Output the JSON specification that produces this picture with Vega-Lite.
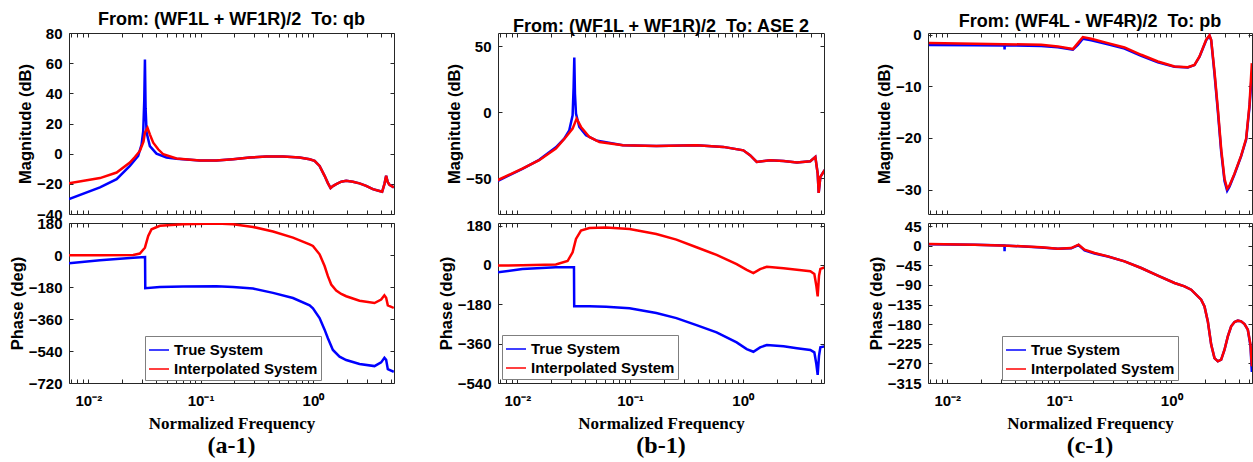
{
"$schema":"https://vega.github.io/schema/vega-lite/v6.json",
"padding":{"left":8,"top":10,"right":0,"bottom":0},
"background":"white",
"datasets":{"d":[
{"p":"a","q":"m","s":"True System","f":0.00673,"v":-30.1},{"p":"a","q":"m","s":"True System","f":0.0127,"v":-22.4},{"p":"a","q":"m","s":"True System","f":0.01787,"v":-16.9},{"p":"a","q":"m","s":"True System","f":0.02344,"v":-8.1},{"p":"a","q":"m","s":"True System","f":0.0278,"v":-1.5},{"p":"a","q":"m","s":"True System","f":0.02979,"v":6},{"p":"a","q":"m","s":"True System","f":0.03083,"v":15},{"p":"a","q":"m","s":"True System","f":0.03148,"v":35},{"p":"a","q":"m","s":"True System","f":0.03192,"v":62.4},{"p":"a","q":"m","s":"True System","f":0.03236,"v":30},{"p":"a","q":"m","s":"True System","f":0.03304,"v":14},{"p":"a","q":"m","s":"True System","f":0.03532,"v":5},{"p":"a","q":"m","s":"True System","f":0.04046,"v":0},{"p":"a","q":"m","s":"True System","f":0.04966,"v":-2.5},{"p":"a","q":"m","s":"True System","f":0.06095,"v":-3.3},{"p":"a","q":"m","s":"True System","f":0.0984,"v":-4.6},{"p":"a","q":"m","s":"True System","f":0.1383,"v":-4.6},{"p":"a","q":"m","s":"True System","f":0.1945,"v":-3.7},{"p":"a","q":"m","s":"True System","f":0.2735,"v":-2.6},{"p":"a","q":"m","s":"True System","f":0.3846,"v":-1.9},{"p":"a","q":"m","s":"True System","f":0.5412,"v":-1.9},{"p":"a","q":"m","s":"True System","f":0.7603,"v":-2.6},{"p":"a","q":"m","s":"True System","f":0.934,"v":-3.7},{"p":"a","q":"m","s":"True System","f":1.035,"v":-4.8},{"p":"a","q":"m","s":"True System","f":1.146,"v":-8.1},{"p":"a","q":"m","s":"True System","f":1.27,"v":-14.7},{"p":"a","q":"m","s":"True System","f":1.359,"v":-19.5},{"p":"a","q":"m","s":"True System","f":1.436,"v":-22.8},{"p":"a","q":"m","s":"True System","f":1.506,"v":-21.5},{"p":"a","q":"m","s":"True System","f":1.612,"v":-20.2},{"p":"a","q":"m","s":"True System","f":1.786,"v":-18.6},{"p":"a","q":"m","s":"True System","f":1.978,"v":-18},{"p":"a","q":"m","s":"True System","f":2.268,"v":-18.6},{"p":"a","q":"m","s":"True System","f":2.599,"v":-19.7},{"p":"a","q":"m","s":"True System","f":2.979,"v":-21.3},{"p":"a","q":"m","s":"True System","f":3.415,"v":-23.5},{"p":"a","q":"m","s":"True System","f":3.914,"v":-24.8},{"p":"a","q":"m","s":"True System","f":4.134,"v":-25.3},{"p":"a","q":"m","s":"True System","f":4.335,"v":-20},{"p":"a","q":"m","s":"True System","f":4.486,"v":-14.7},{"p":"a","q":"m","s":"True System","f":4.642,"v":-19},{"p":"a","q":"m","s":"True System","f":4.804,"v":-20.6},{"p":"a","q":"m","s":"True System","f":5.248,"v":-22.4},
{"p":"a","q":"m","s":"Interpolated System","f":0.00673,"v":-19.7},{"p":"a","q":"m","s":"Interpolated System","f":0.0127,"v":-16.2},{"p":"a","q":"m","s":"Interpolated System","f":0.01787,"v":-12.5},{"p":"a","q":"m","s":"Interpolated System","f":0.02344,"v":-5.9},{"p":"a","q":"m","s":"Interpolated System","f":0.026,"v":-2.2},{"p":"a","q":"m","s":"Interpolated System","f":0.02877,"v":1.8},{"p":"a","q":"m","s":"Interpolated System","f":0.031,"v":8},{"p":"a","q":"m","s":"Interpolated System","f":0.03192,"v":14},{"p":"a","q":"m","s":"Interpolated System","f":0.03365,"v":17.2},{"p":"a","q":"m","s":"Interpolated System","f":0.03532,"v":12.8},{"p":"a","q":"m","s":"Interpolated System","f":0.03784,"v":7.3},{"p":"a","q":"m","s":"Interpolated System","f":0.04188,"v":2.9},{"p":"a","q":"m","s":"Interpolated System","f":0.04645,"v":-0.4},{"p":"a","q":"m","s":"Interpolated System","f":0.06095,"v":-3.2},{"p":"a","q":"m","s":"Interpolated System","f":0.0984,"v":-4.6},{"p":"a","q":"m","s":"Interpolated System","f":0.1383,"v":-4.6},{"p":"a","q":"m","s":"Interpolated System","f":0.1945,"v":-3.7},{"p":"a","q":"m","s":"Interpolated System","f":0.2735,"v":-2.6},{"p":"a","q":"m","s":"Interpolated System","f":0.3846,"v":-1.9},{"p":"a","q":"m","s":"Interpolated System","f":0.5412,"v":-1.9},{"p":"a","q":"m","s":"Interpolated System","f":0.7603,"v":-2.6},{"p":"a","q":"m","s":"Interpolated System","f":0.934,"v":-3.7},{"p":"a","q":"m","s":"Interpolated System","f":1.035,"v":-4.8},{"p":"a","q":"m","s":"Interpolated System","f":1.146,"v":-8.1},{"p":"a","q":"m","s":"Interpolated System","f":1.27,"v":-14.7},{"p":"a","q":"m","s":"Interpolated System","f":1.359,"v":-19.5},{"p":"a","q":"m","s":"Interpolated System","f":1.436,"v":-22.8},{"p":"a","q":"m","s":"Interpolated System","f":1.506,"v":-21.5},{"p":"a","q":"m","s":"Interpolated System","f":1.612,"v":-20.2},{"p":"a","q":"m","s":"Interpolated System","f":1.786,"v":-18.6},{"p":"a","q":"m","s":"Interpolated System","f":1.978,"v":-18},{"p":"a","q":"m","s":"Interpolated System","f":2.268,"v":-18.6},{"p":"a","q":"m","s":"Interpolated System","f":2.599,"v":-19.7},{"p":"a","q":"m","s":"Interpolated System","f":2.979,"v":-21.3},{"p":"a","q":"m","s":"Interpolated System","f":3.415,"v":-23.5},{"p":"a","q":"m","s":"Interpolated System","f":3.914,"v":-24.8},{"p":"a","q":"m","s":"Interpolated System","f":4.134,"v":-25.3},{"p":"a","q":"m","s":"Interpolated System","f":4.335,"v":-20},{"p":"a","q":"m","s":"Interpolated System","f":4.486,"v":-14.7},{"p":"a","q":"m","s":"Interpolated System","f":4.642,"v":-19},{"p":"a","q":"m","s":"Interpolated System","f":4.804,"v":-20.6},{"p":"a","q":"m","s":"Interpolated System","f":5.248,"v":-22.4},
{"p":"a","q":"p","s":"True System","f":0.00673,"v":-47},{"p":"a","q":"p","s":"True System","f":0.0127,"v":-30},{"p":"a","q":"p","s":"True System","f":0.02512,"v":-15},{"p":"a","q":"p","s":"True System","f":0.032,"v":-11},{"p":"a","q":"p","s":"True System","f":0.03215,"v":-187},{"p":"a","q":"p","s":"True System","f":0.04335,"v":-180},{"p":"a","q":"p","s":"True System","f":0.0698,"v":-177},{"p":"a","q":"p","s":"True System","f":0.1383,"v":-176},{"p":"a","q":"p","s":"True System","f":0.1945,"v":-180},{"p":"a","q":"p","s":"True System","f":0.2929,"v":-189},{"p":"a","q":"p","s":"True System","f":0.4411,"v":-213},{"p":"a","q":"p","s":"True System","f":0.664,"v":-242},{"p":"a","q":"p","s":"True System","f":0.934,"v":-283},{"p":"a","q":"p","s":"True System","f":1.0,"v":-300},{"p":"a","q":"p","s":"True System","f":1.146,"v":-355},{"p":"a","q":"p","s":"True System","f":1.27,"v":-420},{"p":"a","q":"p","s":"True System","f":1.359,"v":-468},{"p":"a","q":"p","s":"True System","f":1.506,"v":-534},{"p":"a","q":"p","s":"True System","f":1.726,"v":-572},{"p":"a","q":"p","s":"True System","f":1.978,"v":-591},{"p":"a","q":"p","s":"True System","f":2.599,"v":-613},{"p":"a","q":"p","s":"True System","f":3.533,"v":-625},{"p":"a","q":"p","s":"True System","f":4.05,"v":-604},{"p":"a","q":"p","s":"True System","f":4.33,"v":-578},{"p":"a","q":"p","s":"True System","f":4.486,"v":-590},{"p":"a","q":"p","s":"True System","f":4.642,"v":-642},{"p":"a","q":"p","s":"True System","f":5.248,"v":-657},
{"p":"a","q":"p","s":"Interpolated System","f":0.00673,"v":-2},{"p":"a","q":"p","s":"Interpolated System","f":0.0127,"v":-2},{"p":"a","q":"p","s":"Interpolated System","f":0.02512,"v":0},{"p":"a","q":"p","s":"Interpolated System","f":0.02877,"v":8},{"p":"a","q":"p","s":"Interpolated System","f":0.03192,"v":41},{"p":"a","q":"p","s":"Interpolated System","f":0.03415,"v":107},{"p":"a","q":"p","s":"Interpolated System","f":0.03656,"v":145},{"p":"a","q":"p","s":"Interpolated System","f":0.04335,"v":164},{"p":"a","q":"p","s":"Interpolated System","f":0.0698,"v":173},{"p":"a","q":"p","s":"Interpolated System","f":0.1383,"v":177},{"p":"a","q":"p","s":"Interpolated System","f":0.1945,"v":173},{"p":"a","q":"p","s":"Interpolated System","f":0.2929,"v":158},{"p":"a","q":"p","s":"Interpolated System","f":0.4411,"v":132},{"p":"a","q":"p","s":"Interpolated System","f":0.664,"v":98},{"p":"a","q":"p","s":"Interpolated System","f":0.934,"v":60},{"p":"a","q":"p","s":"Interpolated System","f":1.0,"v":51},{"p":"a","q":"p","s":"Interpolated System","f":1.146,"v":4},{"p":"a","q":"p","s":"Interpolated System","f":1.27,"v":-62},{"p":"a","q":"p","s":"Interpolated System","f":1.359,"v":-119},{"p":"a","q":"p","s":"Interpolated System","f":1.455,"v":-166},{"p":"a","q":"p","s":"Interpolated System","f":1.612,"v":-200},{"p":"a","q":"p","s":"Interpolated System","f":1.787,"v":-219},{"p":"a","q":"p","s":"Interpolated System","f":1.978,"v":-232},{"p":"a","q":"p","s":"Interpolated System","f":2.599,"v":-257},{"p":"a","q":"p","s":"Interpolated System","f":3.533,"v":-270},{"p":"a","q":"p","s":"Interpolated System","f":4.05,"v":-251},{"p":"a","q":"p","s":"Interpolated System","f":4.33,"v":-227},{"p":"a","q":"p","s":"Interpolated System","f":4.486,"v":-240},{"p":"a","q":"p","s":"Interpolated System","f":4.642,"v":-283},{"p":"a","q":"p","s":"Interpolated System","f":5.248,"v":-298},
{"p":"b","q":"m","s":"True System","f":0.00664,"v":-52.2},{"p":"b","q":"m","s":"True System","f":0.01108,"v":-42.8},{"p":"b","q":"m","s":"True System","f":0.01561,"v":-36},{"p":"b","q":"m","s":"True System","f":0.02197,"v":-26.5},{"p":"b","q":"m","s":"True System","f":0.02606,"v":-20},{"p":"b","q":"m","s":"True System","f":0.02888,"v":-13.7},{"p":"b","q":"m","s":"True System","f":0.03093,"v":-2.3},{"p":"b","q":"m","s":"True System","f":0.03157,"v":19},{"p":"b","q":"m","s":"True System","f":0.03201,"v":41.5},{"p":"b","q":"m","s":"True System","f":0.03245,"v":14},{"p":"b","q":"m","s":"True System","f":0.03313,"v":-1},{"p":"b","q":"m","s":"True System","f":0.03546,"v":-11.1},{"p":"b","q":"m","s":"True System","f":0.04067,"v":-17.4},{"p":"b","q":"m","s":"True System","f":0.04993,"v":-21.3},{"p":"b","q":"m","s":"True System","f":0.08632,"v":-25},{"p":"b","q":"m","s":"True System","f":0.1711,"v":-25.5},{"p":"b","q":"m","s":"True System","f":0.389,"v":-25},{"p":"b","q":"m","s":"True System","f":0.6724,"v":-26.2},{"p":"b","q":"m","s":"True System","f":1.014,"v":-28.8},{"p":"b","q":"m","s":"True System","f":1.162,"v":-32.5},{"p":"b","q":"m","s":"True System","f":1.333,"v":-37.6},{"p":"b","q":"m","s":"True System","f":1.753,"v":-36.3},{"p":"b","q":"m","s":"True System","f":2.305,"v":-36.8},{"p":"b","q":"m","s":"True System","f":3.03,"v":-38.1},{"p":"b","q":"m","s":"True System","f":3.985,"v":-37.1},{"p":"b","q":"m","s":"True System","f":4.415,"v":-33.8},{"p":"b","q":"m","s":"True System","f":4.632,"v":-46.4},{"p":"b","q":"m","s":"True System","f":4.728,"v":-61.1},{"p":"b","q":"m","s":"True System","f":4.893,"v":-48.9},{"p":"b","q":"m","s":"True System","f":5.348,"v":-43.6},
{"p":"b","q":"m","s":"Interpolated System","f":0.00664,"v":-51.5},{"p":"b","q":"m","s":"Interpolated System","f":0.01108,"v":-42.6},{"p":"b","q":"m","s":"Interpolated System","f":0.01561,"v":-36.3},{"p":"b","q":"m","s":"Interpolated System","f":0.02197,"v":-27.5},{"p":"b","q":"m","s":"Interpolated System","f":0.02697,"v":-18.7},{"p":"b","q":"m","s":"Interpolated System","f":0.03093,"v":-12.4},{"p":"b","q":"m","s":"Interpolated System","f":0.03357,"v":-4.8},{"p":"b","q":"m","s":"Interpolated System","f":0.0367,"v":-11.1},{"p":"b","q":"m","s":"Interpolated System","f":0.04354,"v":-18.7},{"p":"b","q":"m","s":"Interpolated System","f":0.05348,"v":-22.5},{"p":"b","q":"m","s":"Interpolated System","f":0.08632,"v":-25},{"p":"b","q":"m","s":"Interpolated System","f":0.1711,"v":-25.5},{"p":"b","q":"m","s":"Interpolated System","f":0.389,"v":-25},{"p":"b","q":"m","s":"Interpolated System","f":0.6724,"v":-26.2},{"p":"b","q":"m","s":"Interpolated System","f":1.014,"v":-28.8},{"p":"b","q":"m","s":"Interpolated System","f":1.162,"v":-32.5},{"p":"b","q":"m","s":"Interpolated System","f":1.333,"v":-37.6},{"p":"b","q":"m","s":"Interpolated System","f":1.753,"v":-36.3},{"p":"b","q":"m","s":"Interpolated System","f":2.305,"v":-36.8},{"p":"b","q":"m","s":"Interpolated System","f":3.03,"v":-38.1},{"p":"b","q":"m","s":"Interpolated System","f":3.985,"v":-37.1},{"p":"b","q":"m","s":"Interpolated System","f":4.415,"v":-33.8},{"p":"b","q":"m","s":"Interpolated System","f":4.632,"v":-46.4},{"p":"b","q":"m","s":"Interpolated System","f":4.728,"v":-61.1},{"p":"b","q":"m","s":"Interpolated System","f":4.893,"v":-48.9},{"p":"b","q":"m","s":"Interpolated System","f":5.348,"v":-43.6},
{"p":"b","q":"p","s":"True System","f":0.00664,"v":-34},{"p":"b","q":"p","s":"True System","f":0.01108,"v":-19},{"p":"b","q":"p","s":"True System","f":0.02197,"v":-11},{"p":"b","q":"p","s":"True System","f":0.0318,"v":-11},{"p":"b","q":"p","s":"True System","f":0.03195,"v":-189},{"p":"b","q":"p","s":"True System","f":0.04354,"v":-189},{"p":"b","q":"p","s":"True System","f":0.06131,"v":-191},{"p":"b","q":"p","s":"True System","f":0.099,"v":-198},{"p":"b","q":"p","s":"True System","f":0.1711,"v":-220},{"p":"b","q":"p","s":"True System","f":0.258,"v":-243},{"p":"b","q":"p","s":"True System","f":0.389,"v":-275},{"p":"b","q":"p","s":"True System","f":0.5866,"v":-308},{"p":"b","q":"p","s":"True System","f":0.884,"v":-354},{"p":"b","q":"p","s":"True System","f":1.086,"v":-385},{"p":"b","q":"p","s":"True System","f":1.245,"v":-397},{"p":"b","q":"p","s":"True System","f":1.427,"v":-377},{"p":"b","q":"p","s":"True System","f":1.637,"v":-366},{"p":"b","q":"p","s":"True System","f":2.305,"v":-372},{"p":"b","q":"p","s":"True System","f":3.03,"v":-381},{"p":"b","q":"p","s":"True System","f":3.985,"v":-389},{"p":"b","q":"p","s":"True System","f":4.325,"v":-400},{"p":"b","q":"p","s":"True System","f":4.506,"v":-453},{"p":"b","q":"p","s":"True System","f":4.632,"v":-503},{"p":"b","q":"p","s":"True System","f":4.76,"v":-415},{"p":"b","q":"p","s":"True System","f":4.893,"v":-377},{"p":"b","q":"p","s":"True System","f":5.348,"v":-372},
{"p":"b","q":"p","s":"Interpolated System","f":0.00664,"v":-3},{"p":"b","q":"p","s":"Interpolated System","f":0.01108,"v":-1},{"p":"b","q":"p","s":"Interpolated System","f":0.02197,"v":2},{"p":"b","q":"p","s":"Interpolated System","f":0.02791,"v":18},{"p":"b","q":"p","s":"Interpolated System","f":0.03093,"v":58},{"p":"b","q":"p","s":"Interpolated System","f":0.03313,"v":119},{"p":"b","q":"p","s":"Interpolated System","f":0.0367,"v":157},{"p":"b","q":"p","s":"Interpolated System","f":0.04354,"v":169},{"p":"b","q":"p","s":"Interpolated System","f":0.06131,"v":171},{"p":"b","q":"p","s":"Interpolated System","f":0.099,"v":165},{"p":"b","q":"p","s":"Interpolated System","f":0.1711,"v":142},{"p":"b","q":"p","s":"Interpolated System","f":0.258,"v":116},{"p":"b","q":"p","s":"Interpolated System","f":0.389,"v":81},{"p":"b","q":"p","s":"Interpolated System","f":0.5866,"v":46},{"p":"b","q":"p","s":"Interpolated System","f":0.884,"v":4},{"p":"b","q":"p","s":"Interpolated System","f":1.086,"v":-22},{"p":"b","q":"p","s":"Interpolated System","f":1.245,"v":-37},{"p":"b","q":"p","s":"Interpolated System","f":1.427,"v":-19},{"p":"b","q":"p","s":"Interpolated System","f":1.637,"v":-8},{"p":"b","q":"p","s":"Interpolated System","f":2.305,"v":-15},{"p":"b","q":"p","s":"Interpolated System","f":3.03,"v":-22},{"p":"b","q":"p","s":"Interpolated System","f":3.985,"v":-29},{"p":"b","q":"p","s":"Interpolated System","f":4.325,"v":-41},{"p":"b","q":"p","s":"Interpolated System","f":4.506,"v":-95},{"p":"b","q":"p","s":"Interpolated System","f":4.632,"v":-144},{"p":"b","q":"p","s":"Interpolated System","f":4.76,"v":-49},{"p":"b","q":"p","s":"Interpolated System","f":4.893,"v":-18},{"p":"b","q":"p","s":"Interpolated System","f":5.348,"v":-11},
{"p":"c","q":"m","s":"True System","f":0.00686,"v":-2.0},{"p":"c","q":"m","s":"True System","f":0.01754,"v":-2.05},{"p":"c","q":"m","s":"True System","f":0.0324,"v":-2.1},{"p":"c","q":"m","s":"True System","f":0.03251,"v":-2.9},{"p":"c","q":"m","s":"True System","f":0.0326,"v":-2.1},{"p":"c","q":"m","s":"True System","f":0.06907,"v":-2.2},{"p":"c","q":"m","s":"True System","f":0.0973,"v":-2.45},{"p":"c","q":"m","s":"True System","f":0.1324,"v":-2.9},{"p":"c","q":"m","s":"True System","f":0.1468,"v":-2.0},{"p":"c","q":"m","s":"True System","f":0.1627,"v":-0.8},{"p":"c","q":"m","s":"True System","f":0.1931,"v":-1.1},{"p":"c","q":"m","s":"True System","f":0.272,"v":-1.9},{"p":"c","q":"m","s":"True System","f":0.3831,"v":-2.7},{"p":"c","q":"m","s":"True System","f":0.5397,"v":-4.1},{"p":"c","q":"m","s":"True System","f":0.7603,"v":-5.35},{"p":"c","q":"m","s":"True System","f":1.071,"v":-6.25},{"p":"c","q":"m","s":"True System","f":1.409,"v":-6.35},{"p":"c","q":"m","s":"True System","f":1.615,"v":-5.9},{"p":"c","q":"m","s":"True System","f":1.791,"v":-4.3},{"p":"c","q":"m","s":"True System","f":1.918,"v":-2.7},{"p":"c","q":"m","s":"True System","f":2.054,"v":-1.1},{"p":"c","q":"m","s":"True System","f":2.199,"v":-0.2},{"p":"c","q":"m","s":"True System","f":2.276,"v":-1.1},{"p":"c","q":"m","s":"True System","f":2.437,"v":-7.6},{"p":"c","q":"m","s":"True System","f":2.61,"v":-14.8},{"p":"c","q":"m","s":"True System","f":2.795,"v":-22.6},{"p":"c","q":"m","s":"True System","f":2.994,"v":-28.3},{"p":"c","q":"m","s":"True System","f":3.162,"v":-30.2},{"p":"c","q":"m","s":"True System","f":3.317,"v":-29.4},{"p":"c","q":"m","s":"True System","f":3.678,"v":-27},{"p":"c","q":"m","s":"True System","f":4.217,"v":-23.5},{"p":"c","q":"m","s":"True System","f":4.673,"v":-20.3},{"p":"c","q":"m","s":"True System","f":5.005,"v":-14},{"p":"c","q":"m","s":"True System","f":5.252,"v":-7.5},
{"p":"c","q":"m","s":"Interpolated System","f":0.00686,"v":-1.65},{"p":"c","q":"m","s":"Interpolated System","f":0.01754,"v":-1.78},{"p":"c","q":"m","s":"Interpolated System","f":0.06907,"v":-1.97},{"p":"c","q":"m","s":"Interpolated System","f":0.0973,"v":-2.29},{"p":"c","q":"m","s":"Interpolated System","f":0.1324,"v":-2.81},{"p":"c","q":"m","s":"Interpolated System","f":0.1468,"v":-1.65},{"p":"c","q":"m","s":"Interpolated System","f":0.1627,"v":-0.48},{"p":"c","q":"m","s":"Interpolated System","f":0.1931,"v":-0.8},{"p":"c","q":"m","s":"Interpolated System","f":0.272,"v":-1.65},{"p":"c","q":"m","s":"Interpolated System","f":0.3831,"v":-2.49},{"p":"c","q":"m","s":"Interpolated System","f":0.5397,"v":-3.91},{"p":"c","q":"m","s":"Interpolated System","f":0.7603,"v":-5.21},{"p":"c","q":"m","s":"Interpolated System","f":1.071,"v":-6.18},{"p":"c","q":"m","s":"Interpolated System","f":1.409,"v":-6.31},{"p":"c","q":"m","s":"Interpolated System","f":1.615,"v":-5.86},{"p":"c","q":"m","s":"Interpolated System","f":1.791,"v":-4.24},{"p":"c","q":"m","s":"Interpolated System","f":1.918,"v":-2.62},{"p":"c","q":"m","s":"Interpolated System","f":2.054,"v":-1.0},{"p":"c","q":"m","s":"Interpolated System","f":2.199,"v":-0.16},{"p":"c","q":"m","s":"Interpolated System","f":2.276,"v":-1.0},{"p":"c","q":"m","s":"Interpolated System","f":2.437,"v":-7.16},{"p":"c","q":"m","s":"Interpolated System","f":2.61,"v":-14.3},{"p":"c","q":"m","s":"Interpolated System","f":2.795,"v":-22.1},{"p":"c","q":"m","s":"Interpolated System","f":2.994,"v":-27.9},{"p":"c","q":"m","s":"Interpolated System","f":3.162,"v":-29.8},{"p":"c","q":"m","s":"Interpolated System","f":3.317,"v":-29.2},{"p":"c","q":"m","s":"Interpolated System","f":3.678,"v":-26.9},{"p":"c","q":"m","s":"Interpolated System","f":4.217,"v":-23.4},{"p":"c","q":"m","s":"Interpolated System","f":4.673,"v":-20.1},{"p":"c","q":"m","s":"Interpolated System","f":5.005,"v":-13.6},{"p":"c","q":"m","s":"Interpolated System","f":5.252,"v":-5.53},
{"p":"c","q":"p","s":"True System","f":0.00686,"v":3.5},{"p":"c","q":"p","s":"True System","f":0.01754,"v":2},{"p":"c","q":"p","s":"True System","f":0.0324,"v":0.3},{"p":"c","q":"p","s":"True System","f":0.03251,"v":-13},{"p":"c","q":"p","s":"True System","f":0.0326,"v":0.3},{"p":"c","q":"p","s":"True System","f":0.06907,"v":-4},{"p":"c","q":"p","s":"True System","f":0.0973,"v":-7.2},{"p":"c","q":"p","s":"True System","f":0.128,"v":-6},{"p":"c","q":"p","s":"True System","f":0.1488,"v":1.5},{"p":"c","q":"p","s":"True System","f":0.1684,"v":-11},{"p":"c","q":"p","s":"True System","f":0.2068,"v":-18},{"p":"c","q":"p","s":"True System","f":0.272,"v":-25},{"p":"c","q":"p","s":"True System","f":0.3831,"v":-35.9},{"p":"c","q":"p","s":"True System","f":0.5397,"v":-51.2},{"p":"c","q":"p","s":"True System","f":0.7603,"v":-68.8},{"p":"c","q":"p","s":"True System","f":1.071,"v":-85.6},{"p":"c","q":"p","s":"True System","f":1.315,"v":-93.3},{"p":"c","q":"p","s":"True System","f":1.509,"v":-101},{"p":"c","q":"p","s":"True System","f":1.853,"v":-123.9},{"p":"c","q":"p","s":"True System","f":1.984,"v":-139.2},{"p":"c","q":"p","s":"True System","f":2.125,"v":-173.6},{"p":"c","q":"p","s":"True System","f":2.276,"v":-227},{"p":"c","q":"p","s":"True System","f":2.437,"v":-257.7},{"p":"c","q":"p","s":"True System","f":2.61,"v":-265.3},{"p":"c","q":"p","s":"True System","f":2.795,"v":-261.5},{"p":"c","q":"p","s":"True System","f":2.994,"v":-238.6},{"p":"c","q":"p","s":"True System","f":3.206,"v":-208},{"p":"c","q":"p","s":"True System","f":3.434,"v":-185},{"p":"c","q":"p","s":"True System","f":3.678,"v":-175},{"p":"c","q":"p","s":"True System","f":3.937,"v":-172},{"p":"c","q":"p","s":"True System","f":4.217,"v":-173.6},{"p":"c","q":"p","s":"True System","f":4.516,"v":-179.7},{"p":"c","q":"p","s":"True System","f":4.836,"v":-192.7},{"p":"c","q":"p","s":"True System","f":5.109,"v":-230},{"p":"c","q":"p","s":"True System","f":5.252,"v":-289.8},
{"p":"c","q":"p","s":"Interpolated System","f":0.00686,"v":3.8},{"p":"c","q":"p","s":"Interpolated System","f":0.01754,"v":2.3},{"p":"c","q":"p","s":"Interpolated System","f":0.03481,"v":0},{"p":"c","q":"p","s":"Interpolated System","f":0.06907,"v":-3.8},{"p":"c","q":"p","s":"Interpolated System","f":0.0973,"v":-6.9},{"p":"c","q":"p","s":"Interpolated System","f":0.128,"v":-5.4},{"p":"c","q":"p","s":"Interpolated System","f":0.1488,"v":2.3},{"p":"c","q":"p","s":"Interpolated System","f":0.1684,"v":-9.2},{"p":"c","q":"p","s":"Interpolated System","f":0.2068,"v":-16.8},{"p":"c","q":"p","s":"Interpolated System","f":0.272,"v":-24.5},{"p":"c","q":"p","s":"Interpolated System","f":0.3831,"v":-35.9},{"p":"c","q":"p","s":"Interpolated System","f":0.5397,"v":-51.2},{"p":"c","q":"p","s":"Interpolated System","f":0.7603,"v":-68.8},{"p":"c","q":"p","s":"Interpolated System","f":1.071,"v":-85.6},{"p":"c","q":"p","s":"Interpolated System","f":1.315,"v":-93.3},{"p":"c","q":"p","s":"Interpolated System","f":1.509,"v":-101},{"p":"c","q":"p","s":"Interpolated System","f":1.853,"v":-123.9},{"p":"c","q":"p","s":"Interpolated System","f":1.984,"v":-139.2},{"p":"c","q":"p","s":"Interpolated System","f":2.125,"v":-173.6},{"p":"c","q":"p","s":"Interpolated System","f":2.276,"v":-227},{"p":"c","q":"p","s":"Interpolated System","f":2.437,"v":-257.7},{"p":"c","q":"p","s":"Interpolated System","f":2.61,"v":-265.3},{"p":"c","q":"p","s":"Interpolated System","f":2.795,"v":-261.5},{"p":"c","q":"p","s":"Interpolated System","f":2.994,"v":-238.6},{"p":"c","q":"p","s":"Interpolated System","f":3.206,"v":-208},{"p":"c","q":"p","s":"Interpolated System","f":3.434,"v":-185},{"p":"c","q":"p","s":"Interpolated System","f":3.678,"v":-175},{"p":"c","q":"p","s":"Interpolated System","f":3.937,"v":-172},{"p":"c","q":"p","s":"Interpolated System","f":4.217,"v":-173.6},{"p":"c","q":"p","s":"Interpolated System","f":4.516,"v":-179.7},{"p":"c","q":"p","s":"Interpolated System","f":4.836,"v":-192.7},{"p":"c","q":"p","s":"Interpolated System","f":5.109,"v":-227},{"p":"c","q":"p","s":"Interpolated System","f":5.252,"v":-276.8}
]},
"spacing":42,
"resolve":{"legend":{"color":"independent"}},
"hconcat":[
{"vconcat":[
 {"width":325,"height":181,"data":{"name":"d"},"transform":[{"filter":"datum.p == 'a' && datum.q == 'm'"}],
  "title":{"text":"From: (WF1L + WF1R)/2\u00a0 To: qb","offset":-3},
  "layer":[
   {"transform":[{"filter":"datum.s == 'True System'"}],"mark":{"type":"line","strokeWidth":2.5,"clip":true},
    "encoding":{"x":{"field":"f","type":"quantitative","scale":{"type":"log","domain":[0.00673,5.27]},"axis":{"orient":"bottom","values":[0.007,0.008,0.009,0.01,0.02,0.03,0.04,0.05,0.06,0.07,0.08,0.09,0.1,0.2,0.3,0.4,0.5,0.6,0.7,0.8,0.9,1,2,3,4,5],"labels":false,"labelPadding":0,"title":null}},
     "y":{"field":"v","type":"quantitative","scale":{"domain":[-40,80],"nice":false,"zero":false},"axis":{"orient":"left","values":[-40,-20,0,20,40,60,80],"title":"Magnitude (dB)"}},
     "color":{"field":"s","type":"nominal","scale":{"domain":["True System","Interpolated System"],"range":["#0000ff","#ff0000"]},"legend":null}}},
   {"transform":[{"filter":"datum.s == 'Interpolated System'"}],"mark":{"type":"line","strokeWidth":2.5,"clip":true},
    "encoding":{"x":{"field":"f","type":"quantitative","scale":{"type":"log","domain":[0.00673,5.27]},"axis":{"orient":"top","values":[0.007,0.008,0.009,0.01,0.02,0.03,0.04,0.05,0.06,0.07,0.08,0.09,0.1,0.2,0.3,0.4,0.5,0.6,0.7,0.8,0.9,1,2,3,4,5],"labels":false,"labelPadding":0,"title":null}},
     "y":{"field":"v","type":"quantitative","scale":{"domain":[-40,80],"nice":false,"zero":false},"axis":{"orient":"right","values":[-40,-20,0,20,40,60,80],"labels":false,"labelPadding":0,"title":null}},
     "color":{"field":"s","type":"nominal","scale":{"domain":["True System","Interpolated System"],"range":["#0000ff","#ff0000"]},"legend":null}}}
  ],
  "resolve":{"axis":{"x":"independent","y":"independent"}}},
 {"width":325,"height":160,"data":{"name":"d"},"transform":[{"filter":"datum.p == 'a' && datum.q == 'p'"}],
  "title":{"text":"(a-1)","orient":"bottom","font":"Liberation Serif","fontSize":24,"baseline":"top","offset":3},
  "layer":[
   {"transform":[{"filter":"datum.s == 'True System'"}],"mark":{"type":"line","strokeWidth":2.5,"clip":true},
    "encoding":{"x":{"field":"f","type":"quantitative","scale":{"type":"log","domain":[0.00673,5.27]},"axis":{"orient":"bottom","values":[0.007,0.008,0.009,0.01,0.02,0.03,0.04,0.05,0.06,0.07,0.08,0.09,0.1,0.2,0.3,0.4,0.5,0.6,0.7,0.8,0.9,1,2,3,4,5],"labelExpr":"datum.value == 0.01 ? '10⁻²' : datum.value == 0.1 ? '10⁻¹' : datum.value == 1 ? '10⁰' : ''","labelPadding":14,"title":"Normalized Frequency","titleFont":"Liberation Serif","titleFontSize":17,"titlePadding":7}},
     "y":{"field":"v","type":"quantitative","scale":{"domain":[-720,180],"nice":false,"zero":false},"axis":{"orient":"left","values":[-720,-540,-360,-180,0,180],"title":"Phase (deg)"}},
     "color":{"field":"s","type":"nominal","scale":{"domain":["True System","Interpolated System"],"range":["#0000ff","#ff0000"]},"legend":{"orient":"none","legendX":76,"legendY":113,"title":null}}}},
   {"transform":[{"filter":"datum.s == 'Interpolated System'"}],"mark":{"type":"line","strokeWidth":2.5,"clip":true},
    "encoding":{"x":{"field":"f","type":"quantitative","scale":{"type":"log","domain":[0.00673,5.27]},"axis":{"orient":"top","values":[0.007,0.008,0.009,0.01,0.02,0.03,0.04,0.05,0.06,0.07,0.08,0.09,0.1,0.2,0.3,0.4,0.5,0.6,0.7,0.8,0.9,1,2,3,4,5],"labels":false,"labelPadding":0,"title":null}},
     "y":{"field":"v","type":"quantitative","scale":{"domain":[-720,180],"nice":false,"zero":false},"axis":{"orient":"right","values":[-720,-540,-360,-180,0,180],"labels":false,"labelPadding":0,"title":null}},
     "color":{"field":"s","type":"nominal","scale":{"domain":["True System","Interpolated System"],"range":["#0000ff","#ff0000"]},"legend":{"orient":"none","legendX":76,"legendY":113,"title":null}}}}
  ],
  "resolve":{"axis":{"x":"independent","y":"independent"}}}
 ],"spacing":9,"bounds":"flush","resolve":{"legend":{"color":"independent"}}},
{"vconcat":[
 {"width":326,"height":181,"data":{"name":"d"},"transform":[{"filter":"datum.p == 'b' && datum.q == 'm'"}],
  "title":{"text":"From: (WF1L + WF1R)/2\u00a0 To: ASE 2","offset":-3},
  "layer":[
   {"transform":[{"filter":"datum.s == 'True System'"}],"mark":{"type":"line","strokeWidth":2.5,"clip":true},
    "encoding":{"x":{"field":"f","type":"quantitative","scale":{"type":"log","domain":[0.00673,5.27]},"axis":{"orient":"bottom","values":[0.007,0.008,0.009,0.01,0.02,0.03,0.04,0.05,0.06,0.07,0.08,0.09,0.1,0.2,0.3,0.4,0.5,0.6,0.7,0.8,0.9,1,2,3,4,5],"labels":false,"labelPadding":0,"title":null}},
     "y":{"field":"v","type":"quantitative","scale":{"domain":[-77,60],"nice":false,"zero":false},"axis":{"orient":"left","values":[-50,0,50],"title":"Magnitude (dB)"}},
     "color":{"field":"s","type":"nominal","scale":{"domain":["True System","Interpolated System"],"range":["#0000ff","#ff0000"]},"legend":null}}},
   {"transform":[{"filter":"datum.s == 'Interpolated System'"}],"mark":{"type":"line","strokeWidth":2.5,"clip":true},
    "encoding":{"x":{"field":"f","type":"quantitative","scale":{"type":"log","domain":[0.00673,5.27]},"axis":{"orient":"top","values":[0.007,0.008,0.009,0.01,0.02,0.03,0.04,0.05,0.06,0.07,0.08,0.09,0.1,0.2,0.3,0.4,0.5,0.6,0.7,0.8,0.9,1,2,3,4,5],"labels":false,"labelPadding":0,"title":null}},
     "y":{"field":"v","type":"quantitative","scale":{"domain":[-77,60],"nice":false,"zero":false},"axis":{"orient":"right","values":[-50,0,50],"labels":false,"labelPadding":0,"title":null}},
     "color":{"field":"s","type":"nominal","scale":{"domain":["True System","Interpolated System"],"range":["#0000ff","#ff0000"]},"legend":null}}}
  ],
  "resolve":{"axis":{"x":"independent","y":"independent"}}},
 {"width":326,"height":160,"data":{"name":"d"},"transform":[{"filter":"datum.p == 'b' && datum.q == 'p'"}],
  "title":{"text":"(b-1)","orient":"bottom","font":"Liberation Serif","fontSize":24,"baseline":"top","offset":3},
  "layer":[
   {"transform":[{"filter":"datum.s == 'True System'"}],"mark":{"type":"line","strokeWidth":2.5,"clip":true},
    "encoding":{"x":{"field":"f","type":"quantitative","scale":{"type":"log","domain":[0.00673,5.27]},"axis":{"orient":"bottom","values":[0.007,0.008,0.009,0.01,0.02,0.03,0.04,0.05,0.06,0.07,0.08,0.09,0.1,0.2,0.3,0.4,0.5,0.6,0.7,0.8,0.9,1,2,3,4,5],"labelExpr":"datum.value == 0.01 ? '10⁻²' : datum.value == 0.1 ? '10⁻¹' : datum.value == 1 ? '10⁰' : ''","labelPadding":14,"title":"Normalized Frequency","titleFont":"Liberation Serif","titleFontSize":17,"titlePadding":7}},
     "y":{"field":"v","type":"quantitative","scale":{"domain":[-540,192],"nice":false,"zero":false},"axis":{"orient":"left","values":[-540,-360,-180,0,180],"title":"Phase (deg)"}},
     "color":{"field":"s","type":"nominal","scale":{"domain":["True System","Interpolated System"],"range":["#0000ff","#ff0000"]},"legend":{"orient":"none","legendX":4,"legendY":112,"title":null}}}},
   {"transform":[{"filter":"datum.s == 'Interpolated System'"}],"mark":{"type":"line","strokeWidth":2.5,"clip":true},
    "encoding":{"x":{"field":"f","type":"quantitative","scale":{"type":"log","domain":[0.00673,5.27]},"axis":{"orient":"top","values":[0.007,0.008,0.009,0.01,0.02,0.03,0.04,0.05,0.06,0.07,0.08,0.09,0.1,0.2,0.3,0.4,0.5,0.6,0.7,0.8,0.9,1,2,3,4,5],"labels":false,"labelPadding":0,"title":null}},
     "y":{"field":"v","type":"quantitative","scale":{"domain":[-540,192],"nice":false,"zero":false},"axis":{"orient":"right","values":[-540,-360,-180,0,180],"labels":false,"labelPadding":0,"title":null}},
     "color":{"field":"s","type":"nominal","scale":{"domain":["True System","Interpolated System"],"range":["#0000ff","#ff0000"]},"legend":{"orient":"none","legendX":4,"legendY":112,"title":null}}}}
  ],
  "resolve":{"axis":{"x":"independent","y":"independent"}}}
 ],"spacing":9,"bounds":"flush","resolve":{"legend":{"color":"independent"}}},
{"vconcat":[
 {"width":324,"height":181,"data":{"name":"d"},"transform":[{"filter":"datum.p == 'c' && datum.q == 'm'"}],
  "title":{"text":"From: (WF4L - WF4R)/2\u00a0 To: pb","offset":-3},
  "layer":[
   {"transform":[{"filter":"datum.s == 'True System'"}],"mark":{"type":"line","strokeWidth":2.5,"clip":true},
    "encoding":{"x":{"field":"f","type":"quantitative","scale":{"type":"log","domain":[0.00673,5.27]},"axis":{"orient":"bottom","values":[0.007,0.008,0.009,0.01,0.02,0.03,0.04,0.05,0.06,0.07,0.08,0.09,0.1,0.2,0.3,0.4,0.5,0.6,0.7,0.8,0.9,1,2,3,4,5],"labels":false,"labelPadding":0,"title":null}},
     "y":{"field":"v","type":"quantitative","scale":{"domain":[-34.7,0.3],"nice":false,"zero":false},"axis":{"orient":"left","values":[-30,-20,-10,0],"title":"Magnitude (dB)"}},
     "color":{"field":"s","type":"nominal","scale":{"domain":["True System","Interpolated System"],"range":["#0000ff","#ff0000"]},"legend":null}}},
   {"transform":[{"filter":"datum.s == 'Interpolated System'"}],"mark":{"type":"line","strokeWidth":2.5,"clip":true},
    "encoding":{"x":{"field":"f","type":"quantitative","scale":{"type":"log","domain":[0.00673,5.27]},"axis":{"orient":"top","values":[0.007,0.008,0.009,0.01,0.02,0.03,0.04,0.05,0.06,0.07,0.08,0.09,0.1,0.2,0.3,0.4,0.5,0.6,0.7,0.8,0.9,1,2,3,4,5],"labels":false,"labelPadding":0,"title":null}},
     "y":{"field":"v","type":"quantitative","scale":{"domain":[-34.7,0.3],"nice":false,"zero":false},"axis":{"orient":"right","values":[-30,-20,-10,0],"labels":false,"labelPadding":0,"title":null}},
     "color":{"field":"s","type":"nominal","scale":{"domain":["True System","Interpolated System"],"range":["#0000ff","#ff0000"]},"legend":null}}}
  ],
  "resolve":{"axis":{"x":"independent","y":"independent"}}},
 {"width":324,"height":160,"data":{"name":"d"},"transform":[{"filter":"datum.p == 'c' && datum.q == 'p'"}],
  "title":{"text":"(c-1)","orient":"bottom","font":"Liberation Serif","fontSize":24,"baseline":"top","offset":3},
  "layer":[
   {"transform":[{"filter":"datum.s == 'True System'"}],"mark":{"type":"line","strokeWidth":2.5,"clip":true},
    "encoding":{"x":{"field":"f","type":"quantitative","scale":{"type":"log","domain":[0.00673,5.27]},"axis":{"orient":"bottom","values":[0.007,0.008,0.009,0.01,0.02,0.03,0.04,0.05,0.06,0.07,0.08,0.09,0.1,0.2,0.3,0.4,0.5,0.6,0.7,0.8,0.9,1,2,3,4,5],"labelExpr":"datum.value == 0.01 ? '10⁻²' : datum.value == 0.1 ? '10⁻¹' : datum.value == 1 ? '10⁰' : ''","labelPadding":14,"title":"Normalized Frequency","titleFont":"Liberation Serif","titleFontSize":17,"titlePadding":7}},
     "y":{"field":"v","type":"quantitative","scale":{"domain":[-315,52],"nice":false,"zero":false},"axis":{"orient":"left","values":[-315,-270,-225,-180,-135,-90,-45,0,45],"title":"Phase (deg)"}},
     "color":{"field":"s","type":"nominal","scale":{"domain":["True System","Interpolated System"],"range":["#0000ff","#ff0000"]},"legend":{"orient":"none","legendX":74,"legendY":113,"title":null}}}},
   {"transform":[{"filter":"datum.s == 'Interpolated System'"}],"mark":{"type":"line","strokeWidth":2.5,"clip":true},
    "encoding":{"x":{"field":"f","type":"quantitative","scale":{"type":"log","domain":[0.00673,5.27]},"axis":{"orient":"top","values":[0.007,0.008,0.009,0.01,0.02,0.03,0.04,0.05,0.06,0.07,0.08,0.09,0.1,0.2,0.3,0.4,0.5,0.6,0.7,0.8,0.9,1,2,3,4,5],"labels":false,"labelPadding":0,"title":null}},
     "y":{"field":"v","type":"quantitative","scale":{"domain":[-315,52],"nice":false,"zero":false},"axis":{"orient":"right","values":[-315,-270,-225,-180,-135,-90,-45,0,45],"labels":false,"labelPadding":0,"title":null}},
     "color":{"field":"s","type":"nominal","scale":{"domain":["True System","Interpolated System"],"range":["#0000ff","#ff0000"]},"legend":{"orient":"none","legendX":74,"legendY":113,"title":null}}}}
  ],
  "resolve":{"axis":{"x":"independent","y":"independent"}}}
 ],"spacing":9,"bounds":"flush","resolve":{"legend":{"color":"independent"}}}
],
"config":{
 "font":"Liberation Sans",
 "view":{"stroke":"#262626","strokeWidth":1},
 "axis":{"domain":false,"grid":false,"ticks":true,"tickSize":-4,"tickColor":"#262626","tickWidth":1,"labelFont":"Liberation Sans","labelFontSize":15,"labelFontWeight":"bold","labelColor":"black","labelPadding":11,"labelOverlap":false,"labelFlush":false,"titleFont":"Liberation Sans","titleFontSize":16.5,"titleFontWeight":"bold","titleColor":"black","titlePadding":3},
 "title":{"font":"Liberation Sans","fontSize":18,"fontWeight":"bold","color":"black","anchor":"middle","baseline":"alphabetic"},
 "legend":{"strokeColor":"#7f7f7f","fillColor":"white","padding":3,"labelFont":"Liberation Sans","labelFontWeight":"bold","labelFontSize":15,"labelColor":"black","symbolType":"stroke","symbolStrokeWidth":1.5,"symbolSize":400,"rowPadding":0,"labelOffset":4}
}
}
